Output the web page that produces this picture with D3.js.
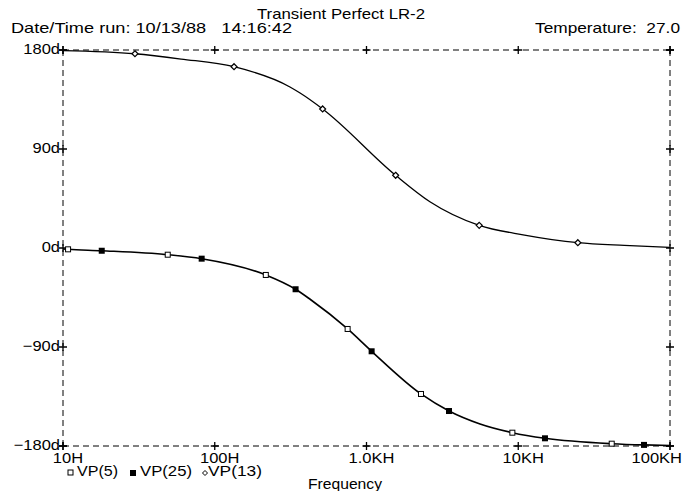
<!DOCTYPE html>
<html>
<head>
<meta charset="utf-8">
<script src="https://cdn.jsdelivr.net/npm/d3@7"></script>
<style>
  body { margin: 0; background: #fff; }
  text { font-family: "Liberation Sans", Arial, sans-serif; font-size: 15px; fill: #000; }
</style>
</head>
<body>
<svg id="chart"></svg>
<script>
// values (frequency in Hz, phase in degrees)
const lowFreq  = [10, 10.8, 18, 49, 82, 217, 341, 425, 751, 1081, 2286, 3497, 5600, 9146, 15000, 41300, 67400, 100000];
const lowPhase = [-0.9, -1.2, -2.5, -6.1, -9.7, -24.5, -37.5, -46.6, -73.6, -93.9, -132.7, -148.2, -160, -167.9, -173, -177.9, -179, -179.5];

const vp5Freq   = [10.8, 49, 217, 751, 2286, 9146, 41300];
const vp5Phase  = [-1.2, -6.1, -24.5, -73.6, -132.7, -167.9, -177.9];
const vp25Freq  = [18, 82, 341, 1081, 3497, 15000, 67400];
const vp25Phase = [-2.5, -9.7, -37.5, -93.9, -148.2, -173, -179];

const vp13Freq   = [10, 29.8, 60, 134, 313, 365, 514, 1556, 2617, 5530, 11000, 24700, 50000, 100000];
const vp13Phase  = [179.5, 176.6, 171.8, 164.8, 146.4, 140.9, 126.4, 66.1, 42.1, 20.6, 11.8, 4.8, 2.3, 0.6];
const vp13MarkFreq  = [29.8, 134, 514, 1556, 5530, 24700];
const vp13MarkPhase = [176.6, 164.8, 126.4, 66.1, 20.6, 4.8];

const yTicks = [-180, -90, 0, 90, 180];
const yLabels = ["\u2212180d", "\u221290d", "0d", "90d", "180d"];
const xTicks = [10, 100, 1000, 10000, 100000];
const xLabels = ["10H", "100H", "1.0KH", "10KH", "100KH"];

const width = 694, height = 491;
const margin = { top: 50, right: 24, bottom: 45, left: 63 };

const svg = d3.select("#chart")
  .attr("width", width)
  .attr("height", height);

// the plotter font is wider than Liberation Sans: stretch each text a bit
function widen(sel, k) {
  sel.each(function() {
    const w = this.getComputedTextLength();
    d3.select(this).attr("textLength", w * k).attr("lengthAdjust", "spacingAndGlyphs");
  });
  return sel;
}

const x = d3.scaleLog()
  .domain([10, 100000])
  .range([margin.left, width - margin.right]);

const y = d3.scaleLinear()
  .domain([-180, 180])
  .range([height - margin.bottom, margin.top]);

const x0 = x.range()[0], x1 = x.range()[1];
const y0 = y.range()[0], y1 = y.range()[1];

// dashed frame
const frame = svg.append("g")
  .attr("fill", "none")
  .attr("stroke", "#000")
  .attr("stroke-width", 1)
  .attr("stroke-dasharray", "6,4");
frame.append("line").attr("x1", x0).attr("x2", x1).attr("y1", y1).attr("y2", y1);
frame.append("line").attr("x1", x0).attr("x2", x1).attr("y1", y0).attr("y2", y0);
frame.append("line").attr("x1", x0).attr("x2", x0).attr("y1", y1).attr("y2", y0);
frame.append("line").attr("x1", x1).attr("x2", x1).attr("y1", y1).attr("y2", y0);

// plus marks on the frame
const plus = [];
xTicks.forEach(function(t) { plus.push([x(t), y1]); plus.push([x(t), y0]); });
yTicks.forEach(function(t) { plus.push([x0, y(t)]); plus.push([x1, y(t)]); });
svg.append("g").selectAll("path")
  .data(plus)
  .enter().append("path")
  .attr("d", function(d) { return "M" + (d[0] - 4) + "," + d[1] + "H" + (d[0] + 4) + "M" + d[0] + "," + (d[1] - 4) + "V" + (d[1] + 4); })
  .attr("stroke", "#000")
  .attr("stroke-width", 1.3);

// y labels
widen(svg.append("g").selectAll("text")
  .data(yTicks)
  .enter().append("text")
  .attr("x", x0 - 3)
  .attr("y", function(d) { return y(d) + 4; })
  .attr("text-anchor", "end")
  .text(function(d, i) { return yLabels[i]; }), 1.1);

// x labels
widen(svg.append("g").selectAll("text")
  .data(xTicks)
  .enter().append("text")
  .attr("x", function(d) { return x(d) + 5; })
  .attr("y", y0 + 17)
  .attr("text-anchor", "middle")
  .text(function(d, i) { return xLabels[i]; }), 1.1)
  .each(function() {
    const b = this.getBBox();
    if (b.x + b.width > width - 12) d3.select(this).attr("x", +d3.select(this).attr("x") - (b.x + b.width - (width - 12)));
  });

// curves
const line = d3.line()
  .x(function(d) { return x(d[0]); })
  .y(function(d) { return y(d[1]); })
  .curve(d3.curveMonotoneX);

svg.append("path")
  .datum(d3.zip(lowFreq, lowPhase))
  .attr("d", line)
  .attr("fill", "none")
  .attr("stroke", "#000")
  .attr("stroke-width", 1.6);

svg.append("path")
  .datum(d3.zip(vp13Freq, vp13Phase))
  .attr("d", line)
  .attr("fill", "none")
  .attr("stroke", "#000")
  .attr("stroke-width", 1.3);

// markers
svg.append("g").selectAll("rect")
  .data(d3.zip(vp5Freq, vp5Phase))
  .enter().append("rect")
  .attr("x", function(d) { return x(d[0]) - 2.5; })
  .attr("y", function(d) { return y(d[1]) - 2.5; })
  .attr("width", 5).attr("height", 5)
  .attr("fill", "#fff").attr("stroke", "#000").attr("stroke-width", 1);

svg.append("g").selectAll("rect")
  .data(d3.zip(vp25Freq, vp25Phase))
  .enter().append("rect")
  .attr("x", function(d) { return x(d[0]) - 3; })
  .attr("y", function(d) { return y(d[1]) - 3; })
  .attr("width", 6).attr("height", 6)
  .attr("fill", "#000");

svg.append("g").selectAll("path")
  .data(d3.zip(vp13MarkFreq, vp13MarkPhase))
  .enter().append("path")
  .attr("transform", function(d) { return "translate(" + x(d[0]) + "," + y(d[1]) + ")"; })
  .attr("d", "M0,-3L3,0L0,3L-3,0Z")
  .attr("fill", "#fff").attr("stroke", "#000").attr("stroke-width", 1.2);

// header texts
svg.append("text").attr("x", 257).attr("y", 19)
  .attr("textLength", 168).attr("lengthAdjust", "spacingAndGlyphs")
  .text("Transient Perfect LR-2");
svg.append("text").attr("x", 11).attr("y", 33).style("white-space", "pre")
  .attr("textLength", 281).attr("lengthAdjust", "spacingAndGlyphs")
  .text("Date/Time run: 10/13/88   14:16:42");
svg.append("text").attr("x", 535).attr("y", 33).style("white-space", "pre")
  .attr("textLength", 145).attr("lengthAdjust", "spacingAndGlyphs")
  .text("Temperature:  27.0");

// legend
const legend = svg.append("g");
legend.append("rect").attr("x", 68).attr("y", 470).attr("width", 5).attr("height", 5)
  .attr("fill", "#fff").attr("stroke", "#000");
legend.append("text").attr("x", 77).attr("y", 476)
  .attr("textLength", 41).attr("lengthAdjust", "spacingAndGlyphs").text("VP(5)");
legend.append("rect").attr("x", 130).attr("y", 470).attr("width", 6).attr("height", 6).attr("fill", "#000");
legend.append("text").attr("x", 140).attr("y", 476)
  .attr("textLength", 52).attr("lengthAdjust", "spacingAndGlyphs").text("VP(25)");
legend.append("path").attr("transform", "translate(205,473)").attr("d", "M0,-2.5L2.5,0L0,2.5L-2.5,0Z")
  .attr("fill", "#fff").attr("stroke", "#000");
legend.append("text").attr("x", 208).attr("y", 476)
  .attr("textLength", 54).attr("lengthAdjust", "spacingAndGlyphs").text("VP(13)");

svg.append("text").attr("x", 308).attr("y", 489)
  .attr("textLength", 74).attr("lengthAdjust", "spacingAndGlyphs").text("Frequency");
</script>
</body>
</html>
